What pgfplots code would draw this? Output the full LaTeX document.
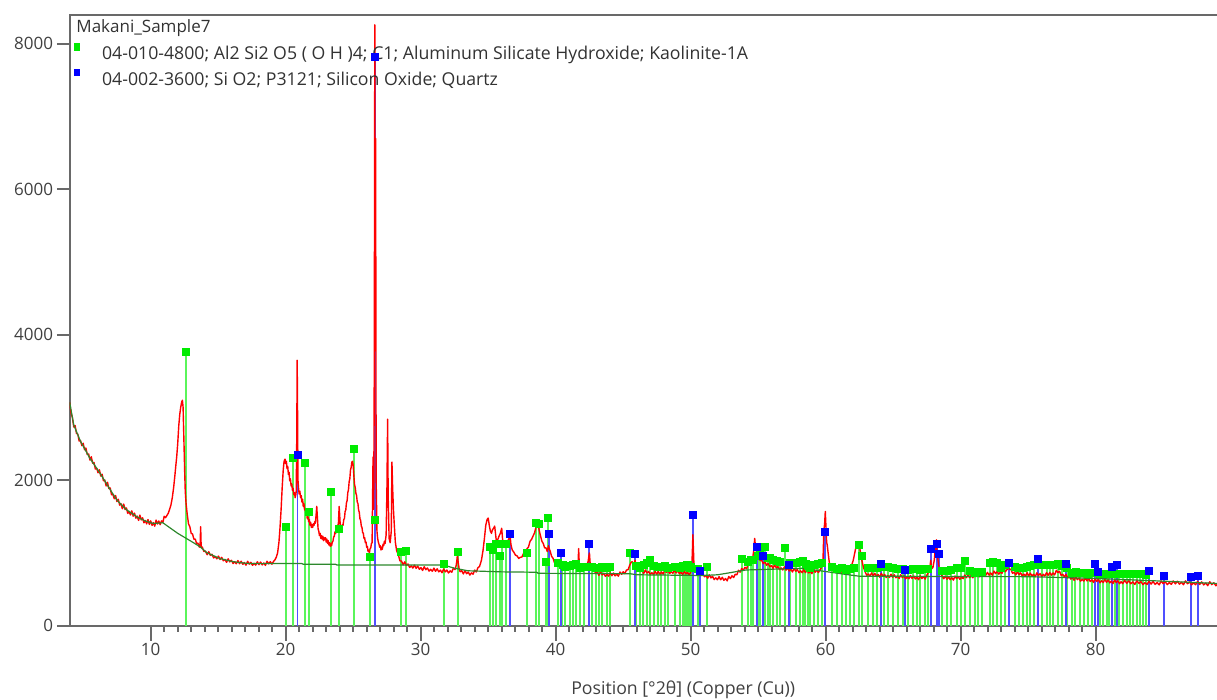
\documentclass[border=0pt]{standalone}
\usepackage{fontspec}
\setmainfont{Open Sans}
\usepackage{pgfplots}
\usepackage{pgfplotstable}
\pgfplotsset{compat=1.18}

\definecolor{axisgray}{RGB}{105,105,105}
\definecolor{labelgray}{RGB}{64,64,64}
\definecolor{textgray}{RGB}{50,50,50}
\definecolor{scanred}{RGB}{255,0,0}
\definecolor{bggreen}{RGB}{45,135,45}
\definecolor{kaostick}{RGB}{90,245,90}
\definecolor{kaomark}{RGB}{0,235,0}
\definecolor{qzstick}{RGB}{80,80,255}
\definecolor{qzmark}{RGB}{0,0,255}

% measured scan: position (deg 2theta), counts
\pgfplotstableread{
pos cts
4.0 3070
4.1 2923
4.2 2862
4.3 2731
4.4 2752
4.5 2645
4.6 2634
4.7 2539
4.8 2546
4.9 2475
5.0 2509
5.1 2419
5.2 2443
5.3 2353
5.4 2362
5.5 2276
5.6 2322
5.7 2235
5.8 2244
5.9 2154
6.0 2166
6.1 2102
6.2 2144
6.3 2057
6.4 2083
6.5 1993
6.6 2002
6.7 1921
6.8 1972
6.9 1885
7.0 1894
7.1 1799
7.2 1806
7.3 1745
7.4 1789
7.5 1706
7.6 1738
7.7 1658
7.8 1677
7.9 1608
8.0 1672
8.1 1597
8.2 1619
8.3 1544
8.4 1571
8.5 1522
8.6 1579
8.7 1506
8.8 1548
8.9 1478
9.0 1507
9.1 1447
9.2 1520
9.3 1454
9.4 1484
9.5 1414
9.6 1446
9.7 1400
9.8 1459
9.9 1393
10.0 1441
10.1 1379
10.2 1417
10.3 1368
10.4 1452
10.5 1398
10.6 1440
10.7 1389
10.8 1441
10.9 1418
11.0 1504
11.1 1485
11.2 1515
11.3 1545
11.4 1600
11.5 1660
11.6 1760
11.7 1900
11.8 2080
11.85 2180
11.93 2330
12.00 2500
12.08 2750
12.15 2900
12.22 3000
12.30 3080
12.35 3100
12.40 3000
12.44 2700
12.48 2400
12.52 2100
12.56 1850
12.62 1680
12.70 1540
12.80 1400
12.90 1360
13.00 1270
13.10 1260
13.20 1190
13.30 1190
13.40 1130
13.50 1135
13.60 1080
13.66 1105
13.70 1360
13.74 1075
13.82 1082
13.94 1020
14.06 1026
14.18 976
14.30 1018
14.42 967
14.54 982
14.66 932
14.78 951
14.90 919
15.02 957
15.14 910
15.26 939
15.38 892
15.50 911
15.62 871
15.74 920
15.86 877
15.98 899
16.10 855
16.22 879
16.34 852
16.46 895
16.58 852
16.70 886
16.82 844
16.94 868
17.06 832
17.18 885
17.30 846
17.42 871
17.54 830
17.66 857
17.78 833
17.90 879
18.02 839
18.14 875
18.26 836
18.38 863
18.50 830
18.62 886
18.74 850
18.86 880
18.98 846
19.10 884
19.20 905
19.30 940
19.40 1000
19.50 1150
19.58 1350
19.66 1600
19.74 1900
19.82 2150
19.88 2260
19.95 2290
20.00 2230
20.05 2260
20.10 2160
20.15 2190
20.20 2080
20.25 2110
20.30 1990
20.35 2020
20.40 1920
20.45 1950
20.50 1860
20.55 1890
20.60 1800
20.65 1830
20.70 1760
20.75 1800
20.78 1850
20.82 2600
20.85 3650
20.88 2900
20.91 2000
20.96 1870
21.00 1810
21.05 1850
21.10 1760
21.15 1790
21.20 1700
21.25 1740
21.30 1640
21.35 1680
21.40 1590
21.45 1610
21.50 1520
21.55 1560
21.60 1470
21.65 1500
21.70 1430
21.75 1460
21.80 1380
21.85 1420
21.90 1350
21.95 1390
22.00 1350
22.05 1400
22.10 1380
22.15 1430
22.20 1410
22.25 1520
22.30 1640
22.35 1480
22.40 1330
22.45 1300
22.50 1240
22.55 1270
22.60 1200
22.65 1240
22.70 1190
22.75 1230
22.80 1170
22.85 1210
22.90 1180
22.95 1210
23.00 1150
23.05 1190
23.10 1130
23.15 1170
23.20 1110
23.25 1140
23.30 1090
23.35 1130
23.40 1100
23.45 1150
23.50 1160
23.55 1220
23.60 1230
23.65 1290
23.70 1270
23.75 1330
23.80 1310
23.85 1380
23.90 1390
23.96 1640
24.02 1450
24.06 1320
24.10 1370
24.15 1330
24.20 1390
24.25 1380
24.30 1460
24.35 1470
24.40 1570
24.45 1590
24.50 1690
24.55 1720
24.60 1830
24.65 1870
24.70 1980
24.75 2020
24.80 2140
24.85 2180
24.90 2250
24.95 2260
25.00 2200
25.05 2060
25.10 1940
25.15 1900
25.20 1820
25.25 1790
25.30 1700
25.35 1680
25.40 1590
25.45 1560
25.50 1470
25.55 1450
25.60 1370
25.65 1350
25.70 1280
25.75 1270
25.80 1200
25.85 1210
25.90 1140
25.95 1150
26.00 1080
26.05 1090
26.10 1020
26.15 1040
26.20 1000
26.25 1060
26.30 1070
26.35 1130
26.40 1140
26.47 2320
26.52 1600
26.56 3500
26.60 8260
26.63 4000
26.66 6700
26.70 2000
26.76 1300
26.81 1200
26.86 1150
26.91 1120
26.96 1080
27.01 1100
27.06 1040
27.11 1080
27.16 1050
27.21 1120
27.26 1100
27.31 1160
27.36 1130
27.44 1250
27.50 1900
27.55 2840
27.59 1800
27.66 1200
27.70 1170
27.74 1140
27.78 1220
27.82 1300
27.87 2250
27.92 1900
27.98 1600
28.04 1400
28.12 1150
28.22 1030
28.34 977
28.46 892
28.58 888
28.70 836
28.82 878
28.94 830
29.06 848
29.18 801
29.30 822
29.42 792
29.54 833
29.66 788
29.78 820
29.90 776
30.02 798
30.14 760
30.26 811
30.38 770
30.50 793
30.62 750
30.74 775
30.86 748
30.98 791
31.10 748
31.22 782
31.34 740
31.46 764
31.58 728
31.70 780
31.82 740
31.94 765
32.06 724
32.18 754
32.30 735
32.42 791
32.54 771
32.62 820
32.68 900
32.72 970
32.77 880
32.84 790
32.92 742
33.04 756
33.16 712
33.28 758
33.40 715
33.52 738
33.64 696
33.76 726
33.88 708
34.00 764
34.12 738
34.24 797
34.36 815
34.50 900
34.62 1040
34.72 1200
34.82 1380
34.92 1460
35.00 1480
35.08 1380
35.16 1300
35.24 1270
35.32 1320
35.40 1340
35.48 1370
35.55 1250
35.62 1140
35.70 1180
35.80 1230
35.90 1270
36.00 1340
36.06 1200
36.14 1090
36.24 1100
36.34 1130
36.44 1160
36.54 1200
36.60 1290
36.68 1120
36.78 1040
36.90 1010
37.02 970
37.14 960
37.26 925
37.38 940
37.50 945
37.62 995
37.74 1010
37.86 1055
37.98 1080
38.10 1160
38.22 1190
38.34 1240
38.44 1280
38.54 1360
38.62 1375
38.70 1395
38.78 1310
38.88 1230
38.98 1160
39.08 1130
39.18 1070
39.28 1070
39.38 1020
39.46 1100
39.52 1060
39.60 1020
39.70 950
39.80 930
39.90 870
40.00 860
40.10 830
40.22 870
40.32 900
40.40 860
40.50 850
40.62 815
40.74 825
40.86 805
40.98 815
41.10 790
41.22 810
41.34 800
41.46 820
41.58 795
41.66 860
41.70 1060
41.74 870
41.82 785
41.94 815
42.06 790
42.18 830
42.30 835
42.40 880
42.46 960
42.50 1000
42.54 880
42.62 800
42.72 775
42.84 772
42.96 717
43.08 733
43.20 692
43.32 740
43.44 698
43.56 721
43.68 679
43.80 706
43.92 681
44.04 727
44.16 687
44.28 724
44.40 685
44.52 712
44.64 680
44.76 738
44.88 706
45.00 742
45.12 716
45.24 764
45.36 770
45.48 830
45.58 870
45.66 880
45.74 850
45.82 860
45.88 900
45.94 830
46.04 786
46.16 800
46.28 744
46.40 760
46.52 719
46.64 767
46.76 724
46.88 746
47.00 703
47.12 729
47.24 703
47.36 748
47.48 708
47.60 745
47.72 708
47.84 738
47.96 709
48.08 768
48.20 730
48.32 757
48.44 717
48.56 745
48.68 721
48.80 766
48.92 724
49.04 758
49.16 715
49.28 738
49.40 701
49.52 752
49.64 711
49.76 735
49.88 694
50.00 735
50.08 800
50.12 1000
50.16 1250
50.20 1060
50.24 830
50.30 760
50.42 749
50.54 715
50.66 748
50.78 694
50.90 720
51.02 672
51.14 692
51.26 652
51.38 700
51.50 657
51.62 678
51.74 634
51.86 658
51.98 631
52.10 674
52.22 631
52.34 665
52.46 624
52.58 649
52.70 617
52.82 676
52.94 648
53.06 686
53.18 662
53.30 707
53.42 700
53.54 762
53.66 736
53.78 787
53.90 762
54.02 803
54.14 782
54.26 850
54.38 845
54.50 880
54.60 940
54.68 1050
54.74 1200
54.80 1080
54.86 1020
54.94 980
55.04 966
55.14 896
55.26 896
55.38 852
55.50 883
55.62 831
55.74 857
55.86 809
55.98 828
56.10 788
56.22 837
56.34 794
56.46 815
56.58 771
56.70 794
56.82 766
56.94 808
57.06 764
57.18 796
57.30 752
57.42 775
57.54 738
57.66 789
57.78 748
57.90 771
58.02 728
58.14 754
58.26 728
58.38 772
58.50 730
58.62 765
58.74 724
58.86 750
58.98 716
59.10 771
59.22 735
59.34 764
59.46 731
59.58 770
59.70 800
59.80 900
59.86 1300
59.92 1400
59.97 1570
60.02 1350
60.07 1150
60.12 1100
60.18 1000
60.26 880
60.36 800
60.48 780
60.60 744
60.72 782
60.84 736
60.96 768
61.08 726
61.20 752
61.32 720
61.44 778
61.56 747
61.68 786
61.80 790
61.92 830
62.04 900
62.14 990
62.24 1080
62.32 1130
62.40 1155
62.46 1140
62.54 1050
62.62 950
62.70 880
62.80 800
62.92 740
63.04 694
63.16 711
63.28 682
63.40 726
63.52 685
63.64 720
63.76 679
63.88 704
64.00 668
64.12 720
64.24 680
64.36 705
64.48 663
64.60 689
64.72 663
64.84 708
64.96 666
65.08 700
65.20 659
65.32 683
65.44 648
65.56 700
65.68 661
65.80 685
65.92 644
66.04 670
66.16 645
66.28 689
66.40 648
66.52 683
66.64 642
66.76 667
66.88 632
67.00 686
67.12 648
67.24 676
67.36 641
67.48 690
67.60 730
67.70 770
67.78 900
67.84 780
67.94 800
68.04 900
68.12 1050
68.20 1180
68.26 1000
68.32 900
68.40 800
68.50 720
68.62 684
68.74 645
68.86 683
68.98 638
69.10 673
69.22 633
69.34 660
69.46 627
69.58 683
69.70 647
69.82 675
69.94 637
70.06 668
70.18 647
70.30 696
70.42 659
70.54 698
70.66 661
70.78 690
70.90 659
71.02 716
71.14 681
71.26 710
71.38 673
71.50 704
71.62 682
71.74 731
71.86 694
71.98 733
72.10 696
72.22 725
72.34 694
72.46 751
72.58 716
72.70 745
72.82 708
72.94 740
73.06 720
73.18 772
73.30 741
73.42 770
73.52 790
73.62 780
73.72 774
73.84 720
73.96 736
74.08 696
74.20 745
74.32 703
74.44 726
74.56 683
74.68 709
74.80 683
74.92 728
75.04 687
75.16 722
75.28 682
75.40 707
75.52 673
75.64 727
75.76 690
75.88 716
76.00 677
76.12 706
76.24 683
76.36 730
76.48 692
76.60 730
76.72 694
76.84 725
76.96 698
77.08 760
77.20 730
77.32 748
77.44 691
77.56 706
77.68 670
77.80 706
77.92 658
78.04 687
78.16 641
78.28 662
78.40 624
78.52 674
78.64 633
78.76 656
78.88 613
79.00 639
79.12 613
79.24 657
79.36 615
79.48 649
79.60 607
79.72 631
79.84 595
79.96 648
80.08 608
80.20 633
80.32 591
80.44 618
80.56 593
80.68 637
80.80 596
80.92 631
81.04 589
81.16 614
81.28 579
81.40 632
81.52 593
81.64 618
81.76 577
81.88 604
82.00 579
82.15 624
82.30 583
82.45 618
82.60 577
82.75 602
82.90 567
83.05 620
83.20 581
83.35 606
83.50 565
83.65 592
83.80 567
83.95 612
84.10 572
84.25 608
84.40 568
84.55 594
84.70 561
84.85 615
85.00 578
85.15 604
85.30 565
85.45 593
85.60 569
85.75 615
85.90 575
86.05 611
86.20 571
86.35 597
86.50 563
86.65 616
86.80 577
86.95 602
87.10 561
87.25 588
87.40 563
87.55 608
87.70 567
87.85 602
88.00 561
88.15 586
88.30 551
88.45 604
88.60 565
88.75 590
88.90 549
89.05 576
89.10 572
}\scan

% fitted background
\pgfplotstableread{
pos cts
4.0 3070
4.3 2760
4.8 2535
5.5 2300
6.2 2110
7.0 1870
7.5 1727
8.2 1595
9.0 1495
9.6 1440
10.2 1405
10.9 1415
12.0 1270
13.0 1160
13.65 1086
14.15 1005
15.1 925
16.1 880
17.1 857
18.1 853
19.1 855
21.2 855
21.3 844
23.7 844
23.8 834
31.7 834
32.5 790
33.5 755
36.0 740
38.6 735
38.7 720
45.5 715
46.0 700
50.9 690
52.0 700
54.1 766
58.3 789
61.8 697
62.5 680
75.0 674
80.0 650
84.0 620
89.1 580
}\background

% 04-010-4800 Kaolinite-1A reference lines
\pgfplotstableread{
pos h
12.59 3763
20.02 1361
20.52 2301
21.43 2233
21.70 1559
23.36 1834
23.97 1334
25.06 2434
26.24 949
26.61 1449
28.55 1010
28.91 1031
31.73 848
32.75 1009
35.15 1086
35.35 1041
35.60 1119
35.85 958
36.05 1119
36.30 1119
37.90 1004
38.54 1408
38.75 1394
39.28 880
39.45 1477
40.19 866
40.50 830
40.70 803
41.06 821
41.30 830
41.50 848
41.80 789
42.10 803
42.67 803
43.00 789
43.20 790
43.45 803
43.78 800
44.02 811
45.50 1004
45.95 820
46.24 789
46.50 840
46.74 858
46.98 903
47.30 820
47.55 803
47.80 810
48.10 821
48.34 800
48.84 811
49.20 800
49.45 820
49.60 811
49.75 830
49.82 834
49.95 800
50.05 810
50.56 780
51.23 803
53.78 913
54.27 880
54.45 903
54.60 903
55.00 960
55.13 1041
55.50 1086
55.75 930
55.87 927
56.12 900
56.37 894
56.60 880
56.99 1073
57.36 858
57.80 870
58.10 880
58.30 894
58.50 850
58.71 820
58.84 789
59.10 840
59.45 850
59.70 866
60.44 803
60.81 776
61.20 790
61.50 766
61.80 776
62.10 800
62.49 1110
62.67 958
63.16 789
63.50 800
63.78 789
64.30 810
64.64 811
65.00 790
65.38 776
65.70 780
66.10 770
66.49 776
66.75 780
66.99 766
67.36 776
67.60 780
68.60 760
68.96 756
69.30 770
69.70 789
70.05 800
70.32 894
70.70 760
71.06 729
71.30 740
71.56 742
72.17 866
72.41 872
72.67 866
73.00 800
73.30 830
74.02 811
74.30 800
74.64 789
74.90 810
75.13 821
75.40 830
76.00 840
76.37 834
76.60 840
76.86 834
77.23 848
77.50 820
77.90 790
78.22 729
78.50 740
78.84 720
79.10 720
79.45 711
79.70 720
80.30 715
80.55 710
80.81 711
81.00 715
81.40 710
81.70 712
82.04 711
82.30 710
82.55 711
82.79 711
83.05 710
83.30 711
83.53 711
83.75 700
}\kaolinite

% 04-002-3600 Quartz reference lines
\pgfplotstableread{
pos h
20.87 2347
26.61 7821
36.61 1257
39.50 1257
40.37 1004
42.49 1119
45.87 982
50.19 1522
50.69 756
54.93 1086
55.38 958
57.30 834
59.97 1284
64.10 844
65.87 766
67.80 1050
68.27 1123
68.41 981
73.58 866
75.75 913
77.78 844
79.95 844
80.15 742
81.19 811
81.56 834
83.92 752
85.06 683
87.08 670
87.56 688
}\quartz

\newcommand{\chartfont}{\fontsize{8.5pt}{10pt}\selectfont}
\newcommand{\entryfont}{\fontsize{8.85pt}{10pt}\selectfont}

\begin{document}
\begin{tikzpicture}
\path[use as bounding box] (0,0) rectangle (608.5pt,350pt);
\begin{axis}[
  at={(34.85pt,37.15pt)}, anchor=south west,
  scale only axis, width=574.425pt, height=305.5pt,
  xmin=4, xmax=89.1, ymin=0, ymax=8400,
  axis line style={axisgray, line width=0.9pt},
  tick align=outside,
  xtick pos=bottom, ytick pos=left,
  xtick={10,20,...,80}, minor x tick num=9,
  ytick={0,2000,...,8000},
  every tick/.style={axisgray, line width=0.9pt},
  xtick style={/pgfplots/major tick length=7.5pt, /pgfplots/minor tick length=3pt},
  ytick style={/pgfplots/major tick length=6.35pt},
  /pgf/number format/assume math mode=true,
  /pgf/number format/set thousands separator={},
  ticklabel style={font=\chartfont, text=labelgray, inner sep=0pt},
  xticklabel shift=4.5pt,
  yticklabel shift=3.85pt,
  xlabel={Position [°2θ] (Copper (Cu))},
  xlabel style={font=\entryfont, text=labelgray, inner sep=0pt,
    at={(axis description cs:0.534,0)}, anchor=base, yshift=-34.65pt},
]
% reference sticks
\addplot[ycomb, kaostick, line width=1pt, forget plot] table[x=pos, y=h] {\kaolinite};
\addplot[ycomb, qzstick, line width=0.9pt, forget plot] table[x=pos, y=h] {\quartz};
% measured pattern and background
\addplot[scanred, line width=0.7pt, line join=round, forget plot] table[x=pos, y=cts] {\scan};
\addplot[bggreen, line width=0.6pt, forget plot] table[x=pos, y=cts] {\background};
% stick heads
\addplot[only marks, mark=square*, mark size=1.75pt, kaomark, forget plot] table[x=pos, y=h] {\kaolinite};
\addplot[only marks, mark=square*, mark size=1.75pt, qzmark, forget plot] table[x=pos, y=h] {\quartz};

% pattern list
\node[anchor=base west, inner sep=0pt, font=\chartfont, text=textgray,
  xshift=3.15pt, yshift=-9pt] at (axis description cs:0,1) {Makani\_Sample7};
\node[anchor=north west, inner sep=0pt, fill=kaomark, minimum width=3pt, minimum height=3.8pt,
  xshift=2.15pt, yshift=-14pt] at (axis description cs:0,1) {};
\node[anchor=base west, inner sep=0pt, font=\entryfont, text=textgray,
  xshift=16pt, yshift=-22.3pt] at (axis description cs:0,1)
  {04-010-4800; Al2 Si2 O5 ( O H )4; C1; Aluminum Silicate Hydroxide; Kaolinite-1A};
\node[anchor=north west, inner sep=0pt, fill=qzmark, minimum width=3pt, minimum height=3.4pt,
  xshift=2.15pt, yshift=-26.8pt] at (axis description cs:0,1) {};
\node[anchor=base west, inner sep=0pt, font=\entryfont, text=textgray,
  xshift=16pt, yshift=-35.15pt] at (axis description cs:0,1)
  {04-002-3600; Si O2; P3121; Silicon Oxide; Quartz};
\end{axis}
\end{tikzpicture}
\end{document}
